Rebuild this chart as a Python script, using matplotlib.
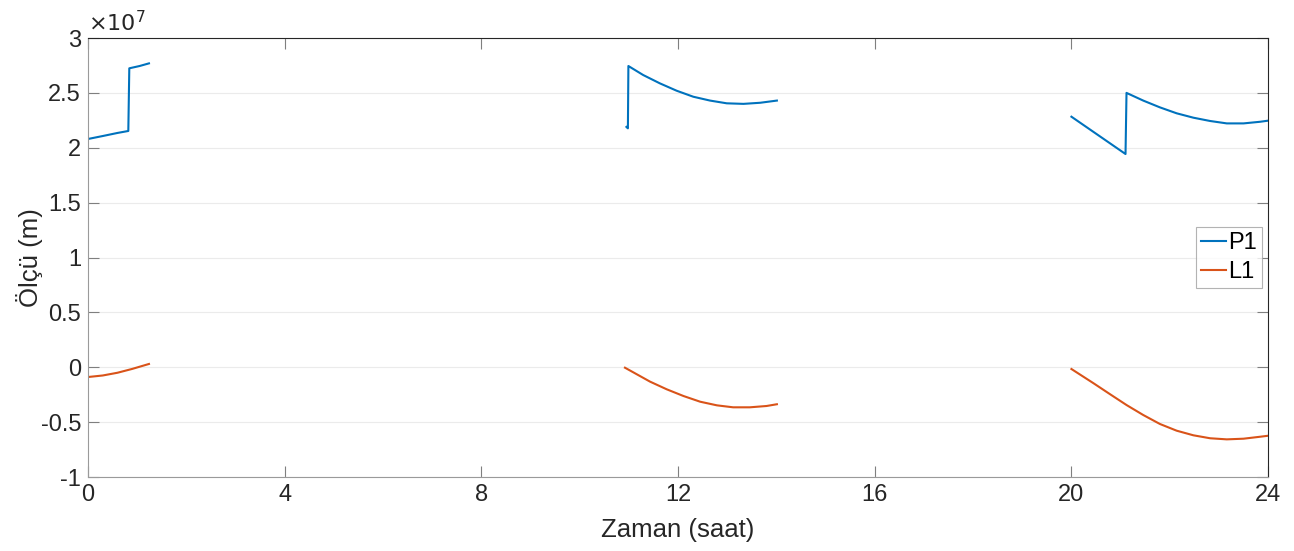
import numpy as np
import matplotlib
matplotlib.use("Agg")
import matplotlib.pyplot as plt

plt.rcParams['font.family'] = ['Liberation Sans', 'DejaVu Sans']

## veriler (olcu x 1e7 m), saat cinsinden zaman

# P1 - uc parca
t_p1_a = [0.0, 0.3, 0.6, 0.82, 0.84, 1.05, 1.24]
p1_a = [2.08, 2.107, 2.135, 2.153, 2.724, 2.745, 2.769]

t_p1_b = [10.95, 10.98, 10.99, 11.29, 11.63, 11.97, 12.31, 12.65, 12.99, 13.33, 13.67, 14.01]
p1_b = [2.19, 2.177, 2.745, 2.663, 2.587, 2.52, 2.465, 2.43, 2.405, 2.40, 2.41, 2.43]

t_p1_c = [20.0, 21.10, 21.12, 21.46, 21.80, 22.14, 22.48, 22.82, 23.16, 23.50, 23.84, 24.0]
p1_c = [2.283, 1.943, 2.50, 2.43, 2.368, 2.314, 2.274, 2.244, 2.222, 2.222, 2.237, 2.247]

# L1 - uc parca
t_l1_a = [0.0, 0.3, 0.6, 0.9, 1.24]
l1_a = [-0.089, -0.075, -0.05, -0.015, 0.03]

t_l1_b = [10.92, 11.43, 11.77, 12.11, 12.45, 12.79, 13.12, 13.46, 13.80, 14.01]
l1_b = [-0.004, -0.131, -0.201, -0.262, -0.314, -0.347, -0.365, -0.365, -0.353, -0.337]

t_l1_c = [20.0, 20.45, 20.79, 21.12, 21.46, 21.80, 22.14, 22.48, 22.82, 23.16, 23.50, 23.84, 24.0]
l1_c = [-0.016, -0.146, -0.247, -0.344, -0.435, -0.517, -0.578, -0.620, -0.647, -0.657,
        -0.651, -0.633, -0.624]

x_ticks = [0, 4, 8, 12, 16, 20, 24]
y_ticks = [-1, -0.5, 0, 0.5, 1, 1.5, 2, 2.5, 3]
y_labels = ["-1", "-0.5", "0", "0.5", "1", "1.5", "2", "2.5", "3"]

c_p1 = "#0072BD"
c_l1 = "#D95319"
gri = "#262626"

fig = plt.figure(figsize=(12.94, 5.51), dpi=100)
ax = fig.add_axes([0.068, 0.1343, 0.912, 0.7967])

ax.plot(t_p1_a, p1_a, c=c_p1, lw=1.5, label="P1")
ax.plot(t_p1_b, p1_b, c=c_p1, lw=1.5)
ax.plot(t_p1_c, p1_c, c=c_p1, lw=1.5)
ax.plot(t_l1_a, l1_a, c=c_l1, lw=1.5, label="L1")
ax.plot(t_l1_b, l1_b, c=c_l1, lw=1.5)
ax.plot(t_l1_c, l1_c, c=c_l1, lw=1.5)

ax.set_xlim(0, 24)
ax.set_ylim(-1, 3)
ax.set_xticks(x_ticks)
ax.set_yticks(y_ticks)
ax.set_yticklabels(y_labels)
ax.tick_params(direction="in", length=8, width=0.8, colors="#7f7f7f",
               labelcolor=gri, labelsize=17, top=True, right=True, pad=5)
ax.yaxis.grid(True, color="#ebebeb", lw=0.8)
ax.set_axisbelow(True)
for s in ax.spines.values():
    s.set_color("#9a9a9a")
    s.set_linewidth(0.8)
ax.spines["top"].set_color("#262626")
ax.spines["right"].set_color("#262626")

ax.set_xlabel("Zaman (saat)", fontsize=18.5, color=gri, labelpad=9)
ax.set_ylabel("Ölçü (m)", fontsize=18.5, color=gri, labelpad=-2)
ax.text(0.0, 1.004, r"$\times10^{7}$", transform=ax.transAxes, fontsize=16,
        color=gri, ha="left", va="bottom")

leg = ax.legend(loc="center right", bbox_to_anchor=(0.9945, 0.5), fontsize=17,
                frameon=True, fancybox=False, handlelength=1.05, handletextpad=0.1,
                borderpad=0.2, labelspacing=0.3, borderaxespad=0.0)
leg.get_frame().set_edgecolor("#a0a0a0")
leg.get_frame().set_linewidth(0.8)

plt.savefig("out.png", dpi=100)
plt.close()
